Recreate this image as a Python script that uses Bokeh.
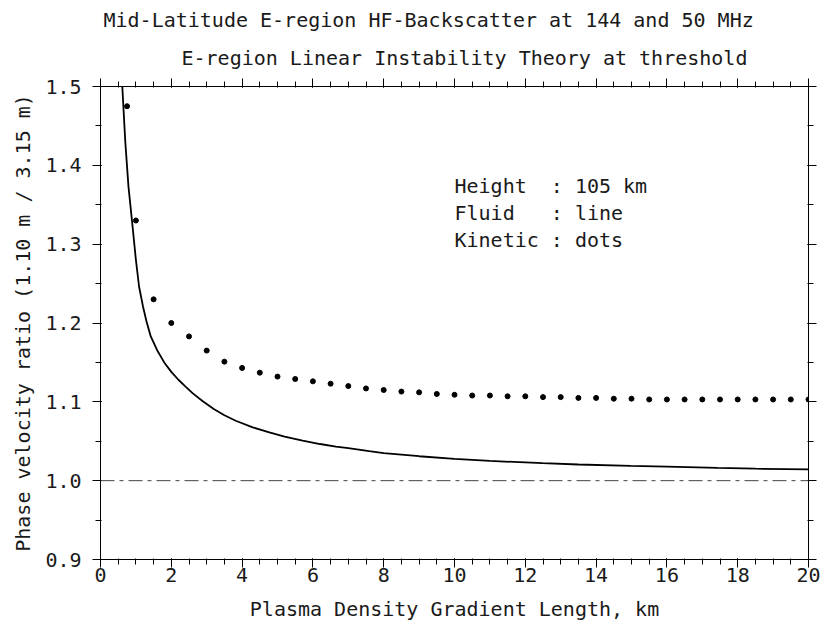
from bokeh.plotting import figure
from bokeh.models import LinearAxis, FixedTicker, Range1d, Span, Title, ColumnDataSource
from bokeh.core.properties import value
from bokeh.embed import file_html
from bokeh.resources import INLINE

# ---- data ----
fluid_x = [0.61, 0.70, 0.79, 0.90, 1.00, 1.09, 1.20, 1.30, 1.42, 1.60, 1.80, 2.00, 2.20,
           2.41, 2.60, 2.88, 3.20, 3.50, 3.82, 4.30, 4.77, 5.20, 5.71, 6.20, 6.65, 7.00,
           7.59, 8.00, 9.00, 10.0, 11.0, 12.49, 13.5, 14.98, 16.0, 17.43, 18.5, 20.0]
fluid_y = [1.505, 1.430, 1.373, 1.325, 1.280, 1.246, 1.221, 1.202, 1.183, 1.1655, 1.150,
           1.138, 1.128, 1.119, 1.111, 1.101, 1.091, 1.083, 1.076, 1.0677, 1.0613, 1.056,
           1.0508, 1.0465, 1.0432, 1.0412, 1.0375, 1.035, 1.031, 1.0277, 1.025, 1.0222,
           1.0205, 1.0188, 1.0178, 1.0163, 1.0152, 1.0142]

kinetic_x = [0.75, 1.0, 1.5, 2.0, 2.5, 3.0, 3.5, 4.0, 4.5, 5.0, 5.5, 6.0, 6.5, 7.0, 7.5,
             8.0, 8.5, 9.0, 9.5, 10.0, 10.5, 11.0, 11.5, 12.0, 12.5, 13.0, 13.5, 14.0,
             14.5, 15.0, 15.5, 16.0, 16.5, 17.0, 17.5, 18.0, 18.5, 19.0, 19.5, 20.0]
kinetic_y = [1.475, 1.330, 1.230, 1.200, 1.183, 1.165, 1.151, 1.143, 1.137, 1.132, 1.129,
             1.126, 1.123, 1.120, 1.117, 1.115, 1.113, 1.112, 1.110, 1.109, 1.108, 1.108,
             1.107, 1.107, 1.106, 1.106, 1.105, 1.105, 1.104, 1.104, 1.103, 1.103, 1.103,
             1.103, 1.103, 1.103, 1.103, 1.103, 1.103, 1.103]

x_ticks = [0, 2, 4, 6, 8, 10, 12, 14, 16, 18, 20]
x_minor_ticks = [i * 0.5 for i in range(41)]
y_ticks = [0.9, 1.0, 1.1, 1.2, 1.3, 1.4, 1.5]
y_tick_labels = ["0.9", "1.0", "1.1", "1.2", "1.3", "1.4", "1.5"]
y_minor_ticks = [round(0.9 + i * 0.05, 2) for i in range(13)]
reference_level = 1.0

title_1 = "Mid-Latitude E-region HF-Backscatter at 144 and 50 MHz"
title_2 = "E-region Linear Instability Theory at threshold"
x_label = "Plasma Density Gradient Length, km"
y_label = "Phase velocity ratio (1.10 m / 3.15 m)"
NB = "\u00a0"
info_lines = ["Height" + NB * 2 + ": 105 km", "Fluid" + NB * 3 + ": line", "Kinetic : dots"]

FONT = "DejaVu Sans Mono"
FS = "20px"
INK = "#1a1a1a"

p = figure(frame_width=708, frame_height=473,
           x_range=Range1d(0, 20), y_range=Range1d(0.9, 1.5),
           output_backend="svg", toolbar_location=None,
           min_border_left=100, min_border_right=13, min_border_top=86, min_border_bottom=66,
           background_fill_color="white", border_fill_color="white")
p.outline_line_color = None
p.xgrid.visible = False
p.ygrid.visible = False

p.title.text = title_1
p.title.text_font = FONT
p.title.text_font_size = FS
p.title.text_font_style = "normal"
p.title.text_color = INK
p.title.align = "left"
p.title.offset = 3
p.title.standoff = 5

def style_axis(ax, ticks, minor, labels=None, show_labels=True):
    ax.ticker = FixedTicker(ticks=ticks, minor_ticks=minor)
    ax.axis_line_color = "black"
    ax.axis_line_width = 1
    ax.major_tick_in = 1
    ax.major_tick_out = 8
    ax.minor_tick_in = 1
    ax.minor_tick_out = 5
    ax.major_tick_line_color = "black"
    ax.minor_tick_line_color = "black"
    ax.major_tick_line_width = 1
    ax.minor_tick_line_width = 1
    ax.major_label_text_font = FONT
    ax.major_label_text_font_size = FS
    ax.major_label_text_color = INK
    ax.axis_label_text_font = FONT
    ax.axis_label_text_font_size = FS
    ax.axis_label_text_font_style = "normal"
    ax.axis_label_text_color = INK
    if labels is not None:
        ax.major_label_overrides = {t: l for t, l in zip(ticks, labels)}
    if not show_labels:
        ax.major_label_overrides = {t: "" for t in ticks}
        ax.major_label_text_font_size = "0px"
        ax.major_label_standoff = 0

xa = p.xaxis[0]
style_axis(xa, x_ticks, x_minor_ticks)
xa.axis_label = x_label
xa.major_label_standoff = 0
xa.axis_label_standoff = 12

ya = p.yaxis[0]
style_axis(ya, y_ticks, y_minor_ticks, labels=y_tick_labels)
ya.axis_label = y_label
ya.major_label_standoff = 11
ya.axis_label_standoff = 7

top_ax = LinearAxis()
style_axis(top_ax, x_ticks, x_minor_ticks, show_labels=False)
p.add_layout(top_ax, "above")

right_ax = LinearAxis()
style_axis(right_ax, y_ticks, y_minor_ticks, show_labels=False)
p.add_layout(right_ax, "right")

t2 = Title(text=title_2, align="left", offset=81, text_font=FONT, text_font_size=FS,
           text_font_style="normal", text_color=INK, standoff=18)
p.add_layout(t2, "above")

p.add_layout(Span(location=reference_level, dimension="width", line_color="#444444",
                  line_width=1, line_dash="14 5 4 5"))

p.line(fluid_x, fluid_y, line_color="black", line_width=1.8)
p.scatter(kinetic_x, kinetic_y, size=5, fill_color="black", line_color="black")

info_src = ColumnDataSource(dict(x=[10.0, 10.0, 10.0], y=[1.374, 1.340, 1.305], t=info_lines))
p.text(x="x", y="y", text="t", source=info_src, text_font=value(FONT), text_font_size=FS,
       text_color=INK, text_baseline="middle", text_align="left")

open("out.html", "w").write(file_html(p, INLINE))
